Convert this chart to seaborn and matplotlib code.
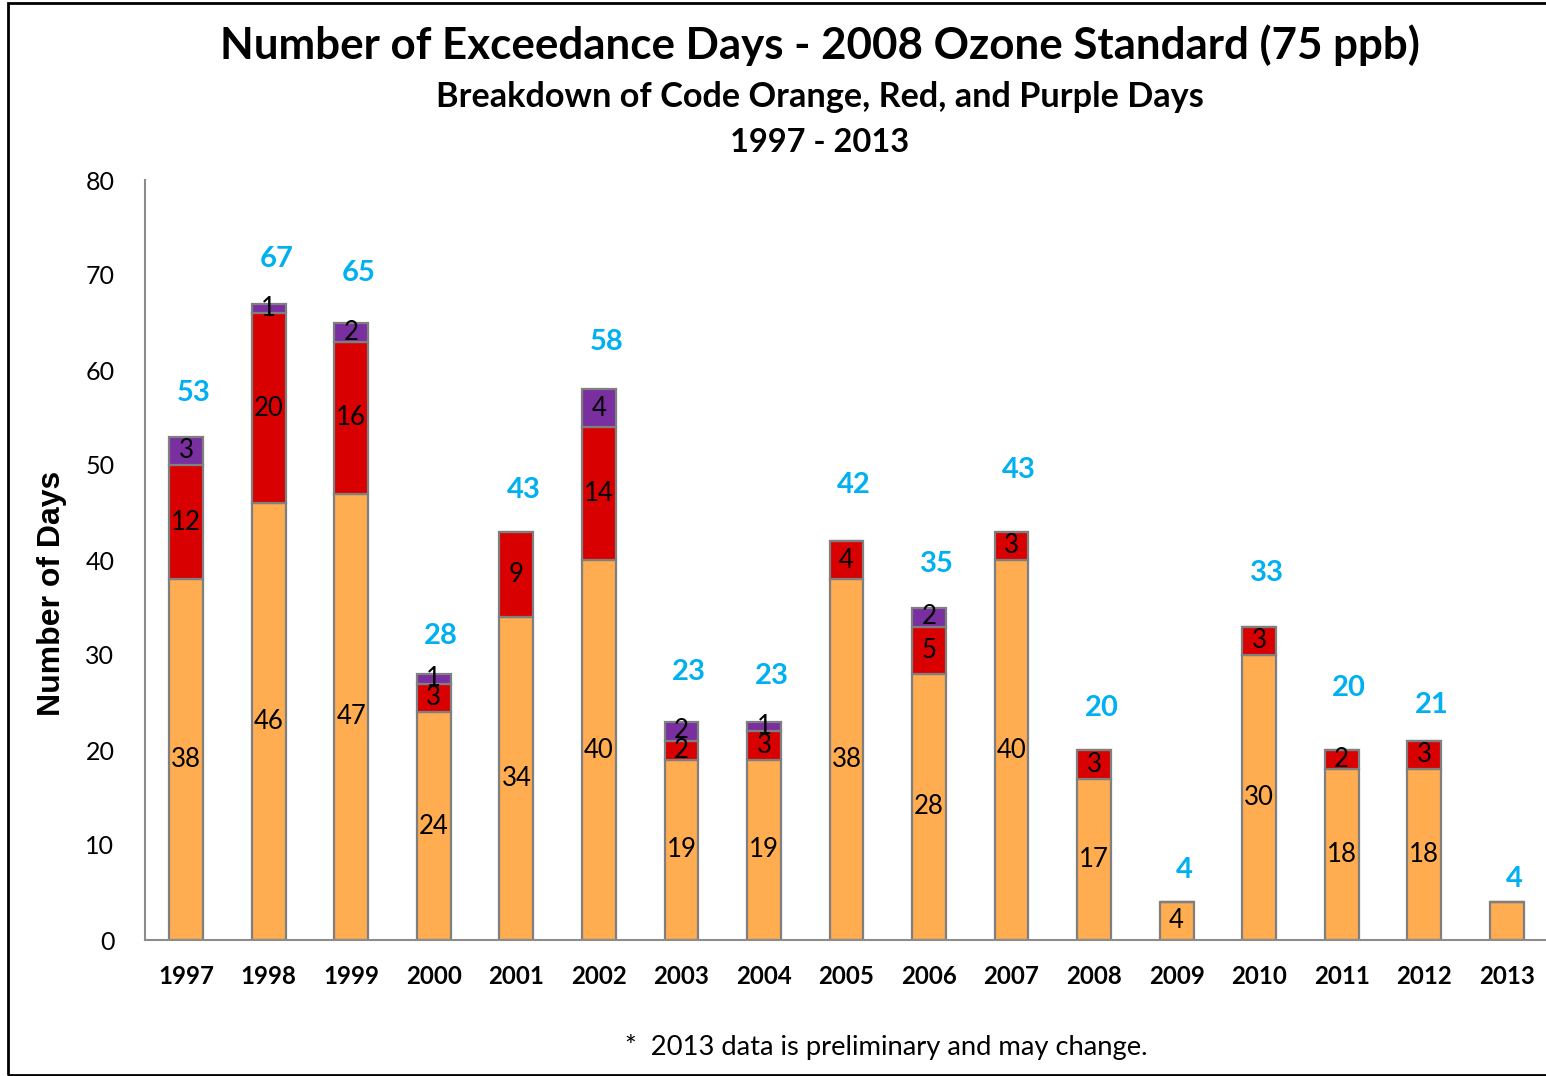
import matplotlib
matplotlib.use("Agg")
import matplotlib.pyplot as plt
import seaborn as sns
import pandas as pd
from matplotlib.patches import Rectangle

# Values
years  = [str(y) for y in range(1997, 2014)]
orange = [38, 46, 47, 24, 34, 40, 19, 19, 38, 28, 40, 17, 4, 30, 18, 18, 4]
red    = [12, 20, 16, 3, 9, 14, 2, 3, 4, 5, 3, 3, 0, 3, 2, 3, 0]
purple = [3, 1, 2, 1, 0, 4, 2, 1, 0, 2, 0, 0, 0, 0, 0, 0, 0]
totals = [o + r + p for o, r, p in zip(orange, red, purple)]

# the total labels were hand placed in the original, gap above each bar (days)
total_gap = [4.6, 4.7, 5.2, 4.0, 4.4, 4.9, 5.2, 4.8, 5.9, 4.6, 6.5, 4.4, 3.4, 5.6, 6.5, 3.7, 2.4]

df = pd.DataFrame({"year": years, "orange": orange, "red": red, "purple": purple})
df["red_base"] = df["orange"]
df["purple_base"] = df["orange"] + df["red"]

sns.set_style("white")
plt.rcParams["font.family"] = ["Lato", "DejaVu Sans"]
plt.rcParams["text.color"] = "black"
plt.rcParams["xtick.color"] = "black"
plt.rcParams["ytick.color"] = "black"

W, H = 1546, 1076
fig = plt.figure(figsize=(W / 100, H / 100), dpi=100)
ax = fig.add_axes([145 / W, 136 / H, (1548 - 145) / W, (940 - 180) / H])

edge = dict(edgecolor="#7f7f7f", linewidth=1.6, width=0.41)
sns.barplot(data=df, x="year", y="orange", color="#FFAD50", saturation=1, ax=ax, **edge)
sns.barplot(data=df, x="year", y="red", bottom=df["red_base"], color="#D80000",
            saturation=1, ax=ax, **edge)
sns.barplot(data=df, x="year", y="purple", bottom=df["purple_base"], color="#7A2FA0",
            saturation=1, ax=ax, **edge)

# segment labels (2013 orange segment has no label in the original)
orange_lbl = [str(v) for v in orange]
orange_lbl[-1] = ""
red_lbl = [str(v) if v else "" for v in red]
purple_lbl = [str(v) if v else "" for v in purple]
for cont, lbl in zip(ax.containers, [orange_lbl, red_lbl, purple_lbl]):
    ax.bar_label(cont, labels=lbl, label_type="center", fontsize=18.5, color="black")

# totals above bars
for i, (t, g) in enumerate(zip(totals, total_gap)):
    ax.text(i + 0.09, t + g, str(t), ha="center", va="center",
            fontsize=21, fontweight="bold", color="#00B0F0")

ax.set_xlim(-0.5, len(years) - 0.5)
ax.set_ylim(0, 80)
ax.set_yticks(range(0, 81, 10))
ax.set_xlabel("")
ax.set_ylabel("")
for s in ["top", "right"]:
    ax.spines[s].set_visible(False)
for s in ["left", "bottom"]:
    ax.spines[s].set_color("#8c8c8c")
    ax.spines[s].set_linewidth(1.5)
ax.set_xticks([i - 0.5 for i in range(len(years) + 1)], minor=False)
ax.set_xticklabels([])
ax.set_xticks(range(len(years)), minor=True)
ax.set_xticklabels(years, minor=True, fontsize=17.3, fontweight="bold")
ax.tick_params(axis="x", which="major", length=8, color="#8c8c8c", width=1.5, direction="out")
ax.tick_params(axis="x", which="minor", length=0, pad=18)
ax.tick_params(axis="y", length=8, color="#8c8c8c", width=1.5, direction="out",
               labelsize=18, pad=14)

fig.text(52 / W, 1 - 593 / H, "Number of Days", rotation=90, ha="center", va="center",
         fontsize=23, fontweight="bold", family=["Liberation Sans", "DejaVu Sans"])

fig.text(820 / W, 1 - 45 / H, "Number of Exceedance Days - 2008 Ozone Standard (75 ppb)",
         ha="center", va="center", fontsize=31.6, fontweight="bold")
fig.text(820 / W, 1 - 97 / H, "Breakdown of Code Orange, Red, and Purple Days",
         ha="center", va="center", fontsize=24.7, fontweight="bold")
fig.text(820 / W, 1 - 142 / H, "1997 - 2013",
         ha="center", va="center", fontsize=23.5, fontweight="bold")
fig.text(886 / W, 1 - 1047 / H, "*  2013 data is preliminary and may change.",
         ha="center", va="center", fontsize=19.7)

# frame around the chart area
fig.patches.append(Rectangle((8 / W, 1 / H), 1.2, 1 - 4 / H, transform=fig.transFigure,
                             fill=False, edgecolor="black", linewidth=2))

fig.savefig("out.png", dpi=100)
